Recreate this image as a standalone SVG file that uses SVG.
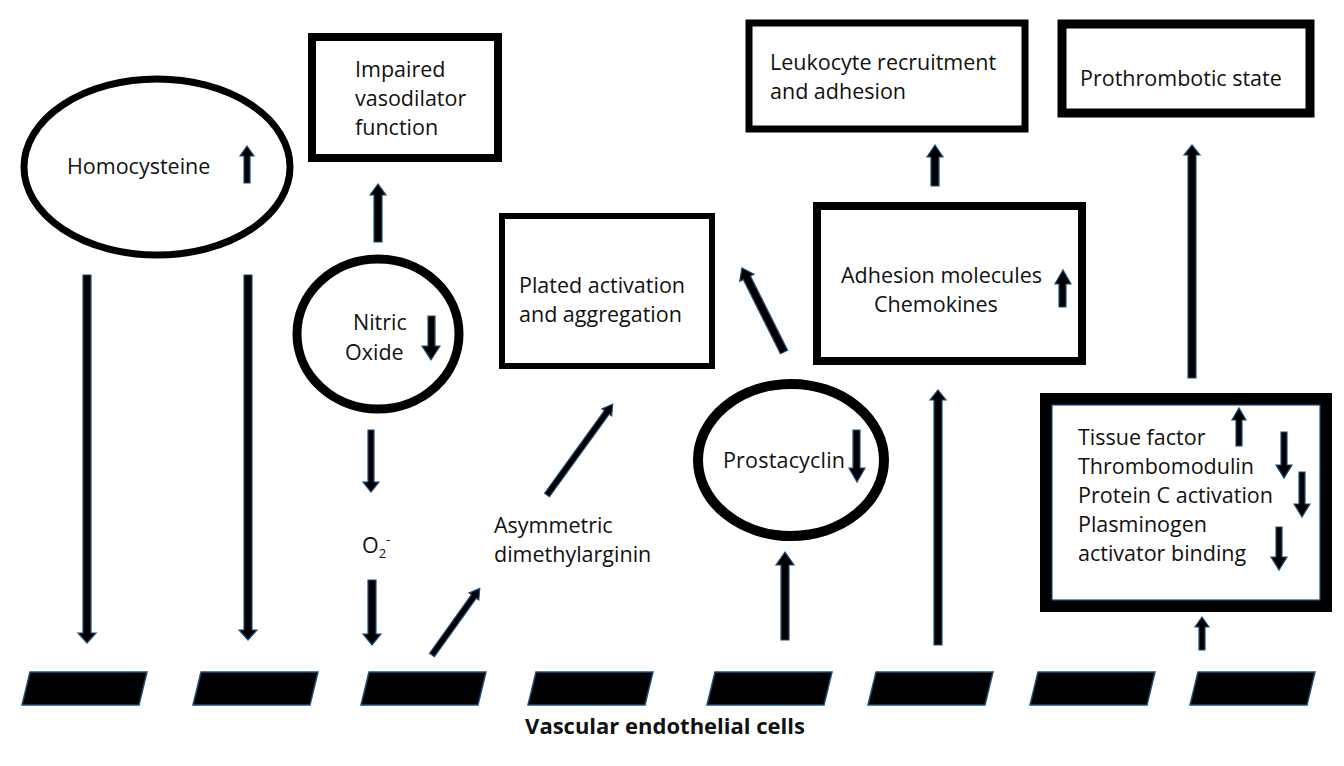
<svg xmlns="http://www.w3.org/2000/svg" width="1344" height="766" viewBox="0 0 1344 766">
<style>
.t{font-family:"Open Sans","Liberation Sans",sans-serif;font-size:21.5px;fill:#111}
.b{fill:#fff;stroke:#000}
.bo{fill:none;stroke:#1f4e79;stroke-width:1.2}
.a{fill:#000;stroke:#1f4e79;stroke-width:1.2}
.c{fill:#000;stroke:#1f4e79;stroke-width:1.5}
</style>
<rect width="1344" height="766" fill="#fff"/>
<g id="homocysteine"><ellipse class="b" cx="157" cy="167" rx="133" ry="88" stroke-width="7"/><text class="t" x="67" y="174">Homocysteine</text><polygon class="a" points="244,183 250,183 250,156 254,156 247,146 240,156 244,156"/></g>
<g id="impaired"><rect class="b" x="312" y="37" width="186" height="121" stroke-width="8"/><text class="t" x="355" y="77">Impaired</text><text class="t" x="355" y="106">vasodilator</text><text class="t" x="355" y="135">function</text></g>
<g id="nitric"><ellipse class="b" cx="378" cy="334" rx="81" ry="75" stroke-width="9"/><text class="t" x="353" y="330">Nitric</text><text class="t" x="345" y="360">Oxide</text><polygon class="a" points="428,316 435,316 435,346 440,346 431,360 422,346 428,346"/></g>
<g id="o2"><text class="t" x="362" y="553">O<tspan font-size="13" dy="5">2</tspan><tspan font-size="13" dy="-14">-</tspan></text></g>
<g id="asym"><text class="t" x="494" y="533">Asymmetric</text><text class="t" x="494" y="562">dimethylarginin</text></g>
<g id="plated"><rect class="b" x="502" y="216" width="210" height="150" stroke-width="6"/><text class="t" x="519" y="293">Plated activation</text><text class="t" x="519" y="322">and aggregation</text></g>
<g id="prostacyclin"><ellipse class="b" cx="791" cy="460" rx="93" ry="76" stroke-width="10"/><text class="t" x="723" y="468" font-size="20" textLength="122">Prostacyclin</text><polygon class="a" points="853,430 860,430 860,468 865,468 857,482 849,468 853,468"/></g>
<g id="adhesion"><rect class="b" x="817" y="206" width="265" height="155" stroke-width="8"/><text class="t" x="841" y="283">Adhesion molecules</text><text class="t" x="874" y="312">Chemokines</text><polygon class="a" points="1059,307 1066,307 1066,284 1071,284 1063,270 1055,284 1059,284"/></g>
<g id="leukocyte"><rect class="b" x="749" y="23" width="276" height="106" stroke-width="7"/><text class="t" x="770" y="70">Leukocyte recruitment</text><text class="t" x="770" y="99">and adhesion</text></g>
<g id="prothrombotic"><rect class="b" x="1062" y="24" width="248" height="89" stroke-width="9"/><text class="t" x="1080" y="86">Prothrombotic state</text></g>
<g id="tissue"><rect class="b" x="1046" y="399" width="280" height="207" stroke-width="12"/><rect class="bo" x="1052" y="405" width="268" height="195"/>
<text class="t" x="1078" y="445">Tissue factor</text><text class="t" x="1078" y="474">Thrombomodulin</text><text class="t" x="1078" y="503">Protein C activation</text><text class="t" x="1078" y="532">Plasminogen</text><text class="t" x="1078" y="561">activator binding</text>
<polygon class="a" points="1236,446 1242,446 1242,420 1246,420 1239,408 1232,420 1236,420"/>
<polygon class="a" points="1281,432 1287,432 1287,465 1292,465 1284,478 1276,465 1281,465"/>
<polygon class="a" points="1299,472 1305,472 1305,504 1310,504 1302,517 1294,504 1299,504"/>
<polygon class="a" points="1276,527 1282,527 1282,557 1287,557 1279,570 1271,557 1276,557"/></g>
<g id="cells">
<polygon class="c" points="30,672 147,672 139,705 22,705"/>
<polygon class="c" points="201,672 318,672 310,705 193,705"/>
<polygon class="c" points="369,672 486,672 478,705 361,705"/>
<polygon class="c" points="536,672 653,672 645,705 528,705"/>
<polygon class="c" points="715,672 832,672 824,705 707,705"/>
<polygon class="c" points="876,672 993,672 985,705 868,705"/>
<polygon class="c" points="1038,672 1155,672 1147,705 1030,705"/>
<polygon class="c" points="1198,672 1315,672 1307,705 1190,705"/>
<text x="665" y="734" text-anchor="middle" font-family="Open Sans,Liberation Sans,sans-serif" font-weight="bold" font-size="22" fill="#111">Vascular endothelial cells</text></g>
<g id="connectors">
<polygon class="a" points="83,275 91,275 91,633 96,633 87,643 78,633 83,633"/>
<polygon class="a" points="244,275 252,275 252,630 257,630 248,640 239,630 244,630"/>
<polygon class="a" points="374,242 382,242 382,195 386,195 378,184 370,195 374,195"/>
<polygon class="a" points="368,430 374,430 374,482 379,482 371,492 363,482 368,482"/>
<polygon class="a" points="368,580 376,580 376,634 381,634 372,645 363,634 368,634"/>
<polygon class="a" transform="translate(432,655) rotate(35.6)" points="-3,0 3,0 3,-72 6,-72 0,-82 -6,-72 -3,-72"/>
<polygon class="a" transform="translate(547,495) rotate(35.9)" points="-3,0 3,0 3,-102 6,-102 0,-112 -6,-102 -3,-102"/>
<polygon class="a" transform="translate(784,352) rotate(-26.6)" points="-4,0 4,0 4,-83 8,-83 0,-94 -8,-83 -4,-83"/>
<polygon class="a" points="781,640 789,640 789,565 794,565 785,552 776,565 781,565"/>
<polygon class="a" points="934,645 942,645 942,400 946,400 938,390 930,400 934,400"/>
<polygon class="a" points="931,186 939,186 939,157 943,157 935,145 927,157 931,157"/>
<polygon class="a" points="1188,378 1196,378 1196,155 1200,155 1192,145 1184,155 1188,155"/>
<polygon class="a" points="1199,650 1205,650 1205,627 1209,627 1202,617 1195,627 1199,627"/>
</g>
</svg>
